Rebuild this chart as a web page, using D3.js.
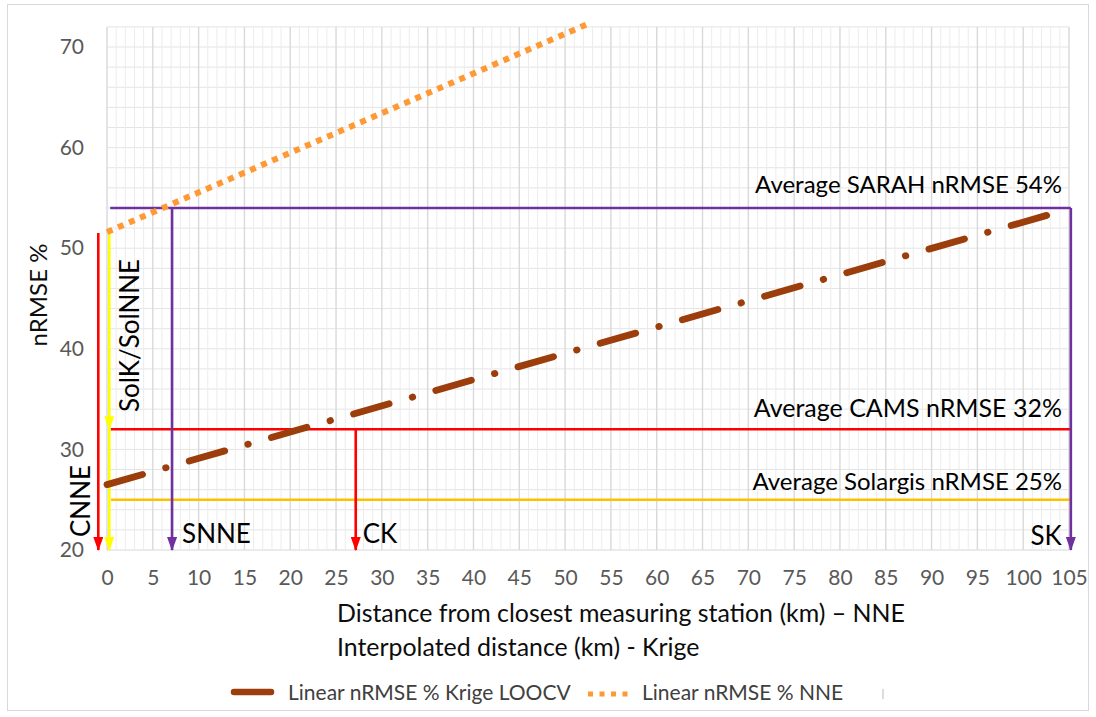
<!DOCTYPE html>
<html>
<head>
<meta charset="utf-8">
<script src="https://cdn.jsdelivr.net/npm/d3@7"></script>
<style>
  body { margin: 0; background: #fff; }
  svg { display: block; }
  text { font-family: Lato, "Open Sans", sans-serif; }
</style>
</head>
<body>
<svg id="chart" width="1096" height="717"></svg>
<script>
// ---- data ----------------------------------------------------------------
const xTickValues = [0, 5, 10, 15, 20, 25, 30, 35, 40, 45, 50, 55, 60, 65, 70, 75, 80, 85, 90, 95, 100, 105];
const yTickValues = [20, 30, 40, 50, 60, 70];

// linear trend lines (distance km -> nRMSE %)
const trendNames = ["Linear nRMSE % Krige LOOCV", "Linear nRMSE % NNE"];
const krigeDistance = [0, 105];
const krigeNrmse = [26.5, 53.9];
const nneDistance = [0, 52.5];
const nneNrmse = [51.6, 72.3];

// satellite product averages
const averageNames = ["SARAH", "CAMS", "Solargis"];
const averageNrmse = [54, 32, 25];
const averageFrom = [0.35, 0.4, 0.4];
const averageTo = [105.2, 105.2, 105.2];

// vertical markers: distance, start and end nRMSE
const markerLabels = ["CNNE", "SolK/SolNNE", "", "SNNE", "CK", "SK"];
const markerDistance = [-0.95, 0.25, 0.25, 7.1, 27.15, 105.2];
const markerTop = [51.5, 51.6, 32, 54, 32, 54];
const markerBottom = [20, 32, 20, 20, 20, 20];

// ---- styles --------------------------------------------------------------
const averageColors = ["#7030a0", "#ff0000", "#ffc000"];
const markerColors = ["#ff0000", "#ffff00", "#ffff00", "#7030a0", "#ff0000", "#7030a0"];
const krigeColor = "#9c3d0c";
const nneColor = "#ff9933";

const svg = d3.select("#chart");

// chart frame
svg.append("rect")
  .attr("x", 7.5).attr("y", 4.5)
  .attr("width", 1081).attr("height", 706)
  .attr("fill", "#fff").attr("stroke", "#d9d9d9").attr("stroke-width", 1);

const x = d3.scaleLinear().domain([0, 105]).range([107, 1069]);
const y = d3.scaleLinear().domain([20, 72]).range([550, 26.9]);

// ---- gridlines -----------------------------------------------------------
const grid = svg.append("g");
grid.selectAll("line.hminor")
  .data(d3.range(20, 72.1, 2))
  .join("line")
  .attr("x1", x(0)).attr("x2", x(105))
  .attr("y1", d => y(d)).attr("y2", d => y(d))
  .attr("stroke", d => d === 20 ? "#d6d6d6" : "#e4e4e4")
  .attr("stroke-width", 1);

grid.selectAll("line.vminor")
  .data(d3.range(0, 105.1, 1).filter(d => d % 5 !== 0))
  .join("line")
  .attr("x1", d => x(d)).attr("x2", d => x(d))
  .attr("y1", y(20)).attr("y2", y(72))
  .attr("stroke", "#ececec")
  .attr("stroke-width", 1);

grid.selectAll("line.vmajor")
  .data(xTickValues)
  .join("line")
  .attr("x1", d => x(d)).attr("x2", d => x(d))
  .attr("y1", y(20)).attr("y2", y(72))
  .attr("stroke", "#d9d9d9")
  .attr("stroke-width", 1.4);

// ---- axes ----------------------------------------------------------------
const yAxis = d3.axisLeft(y).tickValues(yTickValues).tickSize(0).tickPadding(0);
svg.append("g")
  .attr("transform", "translate(84,0)")
  .call(yAxis)
  .call(g => g.select(".domain").remove())
  .call(g => g.selectAll("text")
    .attr("fill", "#595959")
    .style("font-size", "21px")
    .style("font-family", "Lato, sans-serif"));

const xAxis = d3.axisBottom(x).tickValues(xTickValues).tickSize(0).tickPadding(0);
svg.append("g")
  .attr("transform", "translate(0,570)")
  .call(xAxis)
  .call(g => g.select(".domain").remove())
  .call(g => g.selectAll("text")
    .attr("fill", "#595959")
    .attr("dy", "0.71em")
    .style("font-size", "21px")
    .style("font-family", "Lato, sans-serif"));

// axis titles
svg.append("text")
  .attr("transform", "translate(47,295) rotate(-90)")
  .attr("text-anchor", "middle")
  .attr("fill", "#0d0d0d")
  .style("font-size", "24px")
  .text("nRMSE %");

svg.append("text")
  .attr("x", 337).attr("y", 622)
  .attr("fill", "#0d0d0d")
  .style("font-size", "24.9px")
  .text("Distance from closest measuring station (km) – NNE");
svg.append("text")
  .attr("x", 337).attr("y", 656)
  .attr("fill", "#0d0d0d")
  .style("font-size", "24.9px")
  .text("Interpolated distance (km) - Krige");

// ---- arrow heads ---------------------------------------------------------
const defs = svg.append("defs");
const headColors = Array.from(new Set(markerColors));
headColors.forEach((c, i) => {
  defs.append("marker")
    .attr("id", "head" + i)
    .attr("viewBox", "0 0 14 10")
    .attr("refX", 13).attr("refY", 5)
    .attr("markerWidth", 14).attr("markerHeight", 10)
    .attr("markerUnits", "userSpaceOnUse")
    .attr("orient", "auto")
    .append("path")
    .attr("d", "M0,0 L14,5 L0,10 Z")
    .attr("fill", c);
});

// ---- average level lines -------------------------------------------------
const avg = svg.append("g");
avg.selectAll("line")
  .data(averageNrmse)
  .join("line")
  .attr("x1", (d, i) => x(averageFrom[i]))
  .attr("x2", (d, i) => x(averageTo[i]))
  .attr("y1", d => y(d)).attr("y2", d => y(d))
  .attr("stroke", (d, i) => averageColors[i])
  .attr("stroke-width", 2.6);

const avgLabelSize = [24, 25, 24];
const avgLabelLift = [14.5, 12.5, 10];
avg.selectAll("text")
  .data(averageNrmse)
  .join("text")
  .attr("x", 1062)
  .attr("y", (d, i) => y(d) - avgLabelLift[i])
  .attr("text-anchor", "end")
  .attr("fill", "#000")
  .style("font-size", (d, i) => avgLabelSize[i] + "px")
  .text((d, i) => `Average ${averageNames[i]} nRMSE ${d}%`);

// ---- vertical markers ----------------------------------------------------
const mk = svg.append("g");
mk.selectAll("line")
  .data(markerDistance)
  .join("line")
  .attr("x1", d => x(d)).attr("x2", d => x(d))
  .attr("y1", (d, i) => y(markerTop[i]))
  .attr("y2", (d, i) => y(markerBottom[i]))
  .attr("stroke", (d, i) => markerColors[i])
  .attr("stroke-width", 2.6)
  .attr("marker-end", (d, i) => `url(#head${headColors.indexOf(markerColors[i])})`);

// marker labels
const lbl = svg.append("g").attr("fill", "#000").style("font-size", "26px");
lbl.append("text")
  .attr("transform", `translate(${x(markerDistance[0]) - 8.5},537) rotate(-90)`)
  .text(markerLabels[0]);
lbl.append("text")
  .attr("transform", `translate(${x(markerDistance[1]) + 30},412) rotate(-90)`)
  .text(markerLabels[1]);
lbl.append("text")
  .attr("x", x(markerDistance[3]) + 10).attr("y", 543)
  .text(markerLabels[3]);
lbl.append("text")
  .attr("x", x(markerDistance[4]) + 7).attr("y", 543)
  .text(markerLabels[4]);
lbl.append("text")
  .attr("x", x(markerDistance[5]) - 9).attr("y", 545)
  .attr("text-anchor", "end")
  .text(markerLabels[5]);

// ---- trend lines ---------------------------------------------------------
const line = d3.line().x(d => x(d[0])).y(d => y(d[1]));

svg.append("path")
  .datum(krigeDistance.map((d, i) => [d, krigeNrmse[i]]))
  .attr("d", line)
  .attr("fill", "none")
  .attr("stroke", krigeColor)
  .attr("stroke-width", 6.8)
  .attr("stroke-linecap", "round")
  .attr("stroke-dasharray", "37,24,0.5,24");

svg.append("path")
  .datum(nneDistance.map((d, i) => [d, nneNrmse[i]]))
  .attr("d", line)
  .attr("fill", "none")
  .attr("stroke", nneColor)
  .attr("stroke-width", 6)
  .attr("stroke-dasharray", "6,6");

// ---- legend --------------------------------------------------------------
const lg = svg.append("g").style("font-size", "21px").attr("fill", "#404040");
lg.append("line")
  .attr("x1", 234).attr("x2", 271).attr("y1", 692).attr("y2", 692)
  .attr("stroke", krigeColor).attr("stroke-width", 6.5).attr("stroke-linecap", "round");
lg.append("text").attr("x", 288).attr("y", 700).text(trendNames[0]);
lg.append("line")
  .attr("x1", 588).attr("x2", 630).attr("y1", 694).attr("y2", 694)
  .attr("stroke", nneColor).attr("stroke-width", 5).attr("stroke-dasharray", "5,6.5");
lg.append("text").attr("x", 642).attr("y", 700).text(trendNames[1]);
lg.append("line")
  .attr("x1", 883).attr("x2", 883).attr("y1", 689).attr("y2", 699)
  .attr("stroke", "#d0d0d0").attr("stroke-width", 1.5);
</script>
</body>
</html>
